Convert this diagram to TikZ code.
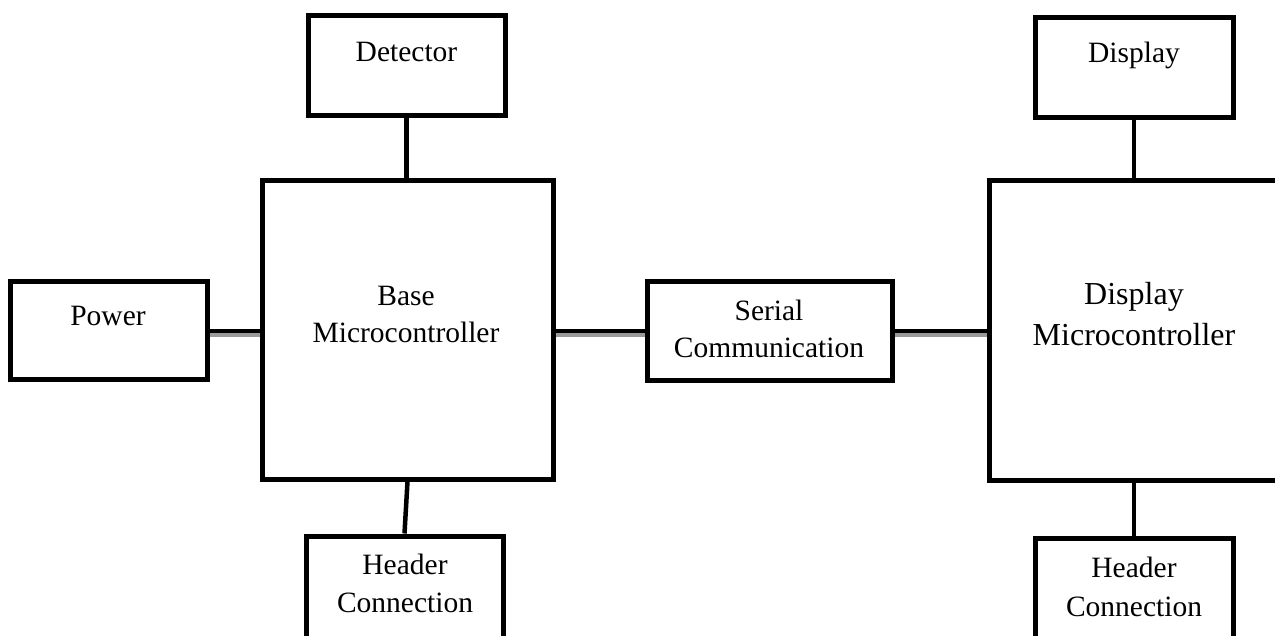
\documentclass[tikz,border=0pt]{standalone}
\usepackage{fontspec}
\setmainfont{Liberation Serif}
\begin{document}
\begin{tikzpicture}[x=1pt,y=-1pt,
  blockbox/.style={draw=black, line width=5pt, rectangle, inner sep=0pt, fill=white},
  wire/.style={draw=black, line width=4.5pt},
  shadowwire/.style={preaction={draw=black!40, line width=3.5pt, transform canvas={yshift=-4pt}}},
  lbl/.style={anchor=base, inner sep=0pt, font=\fontsize{29.5}{30}\selectfont},
  biglbl/.style={anchor=base, inner sep=0pt, font=\fontsize{32}{33}\selectfont}]
\useasboundingbox (0,0) rectangle (1275,635);
\clip (0,0) rectangle (1275,635);
\fill[white] (0,0) rectangle (1275,635);

% connectors (drawn first, under boxes)
\coordinate (pw) at (108.5,331);
\coordinate (bm) at (407.5,329.5);
\coordinate (se) at (769.5,331);
\coordinate (dmc) at (1139,330);

% boxes
\node[blockbox, minimum width=197pt, minimum height=98pt] (power) at (108.5,330) {};
\node[blockbox, minimum width=197pt, minimum height=100pt] (detector) at (406.5,65) {};
\node[blockbox, minimum width=291pt, minimum height=299pt] (base) at (407.5,329.5) {};
\node[blockbox, minimum width=197pt, minimum height=114pt] (headerl) at (404.5,593) {};
\node[blockbox, minimum width=245pt, minimum height=99pt] (serial) at (769.5,330.5) {};
\node[blockbox, minimum width=300pt, minimum height=300pt] (dispmicro) at (1139,330) {};
\node[blockbox, minimum width=198pt, minimum height=100pt] (display) at (1134,67) {};
\node[blockbox, minimum width=198pt, minimum height=112pt] (headerr) at (1134,594) {};

% connectors
\draw[wire, shadowwire] (power.east |- 0,331) -- (base.west |- 0,331);
\draw[wire, shadowwire] (base.east |- 0,331) -- (serial.west |- 0,331);
\draw[wire, shadowwire] (serial.east |- 0,331) -- (dispmicro.west |- 0,331);
\draw[wire] (detector.south) -- (detector.south |- base.north);
\draw[wire] (base.south) -- (headerl.north);
\draw[wire] (display.south) -- (display.south |- dispmicro.north);
\draw[wire] (display.south |- dispmicro.south) -- (headerr.north);

% labels
\node[lbl] (tpower) at (108,325) {Power};
\node[lbl] (tdetector) at (406.5,61) {Detector};
\node[lbl] (tbase1) at (406,305) {Base};
\node[lbl] (tbase2) at (406,342) {Microcontroller};
\node[lbl] (tser1) at (769,320) {Serial};
\node[lbl] (tser2) at (769,357) {Communication};
\node[lbl] (thl1) at (405,574) {Header};
\node[lbl] (thl2) at (405,612) {Connection};
\node[lbl] (tdisp) at (1134,62) {Display};
\node[biglbl] (tdm1) at (1134,304) {Display};
\node[biglbl] (tdm2) at (1134,345) {Microcontroller};
\node[lbl] (thr1) at (1134,577) {Header};
\node[lbl] (thr2) at (1134,616) {Connection};
\end{tikzpicture}
\end{document}
